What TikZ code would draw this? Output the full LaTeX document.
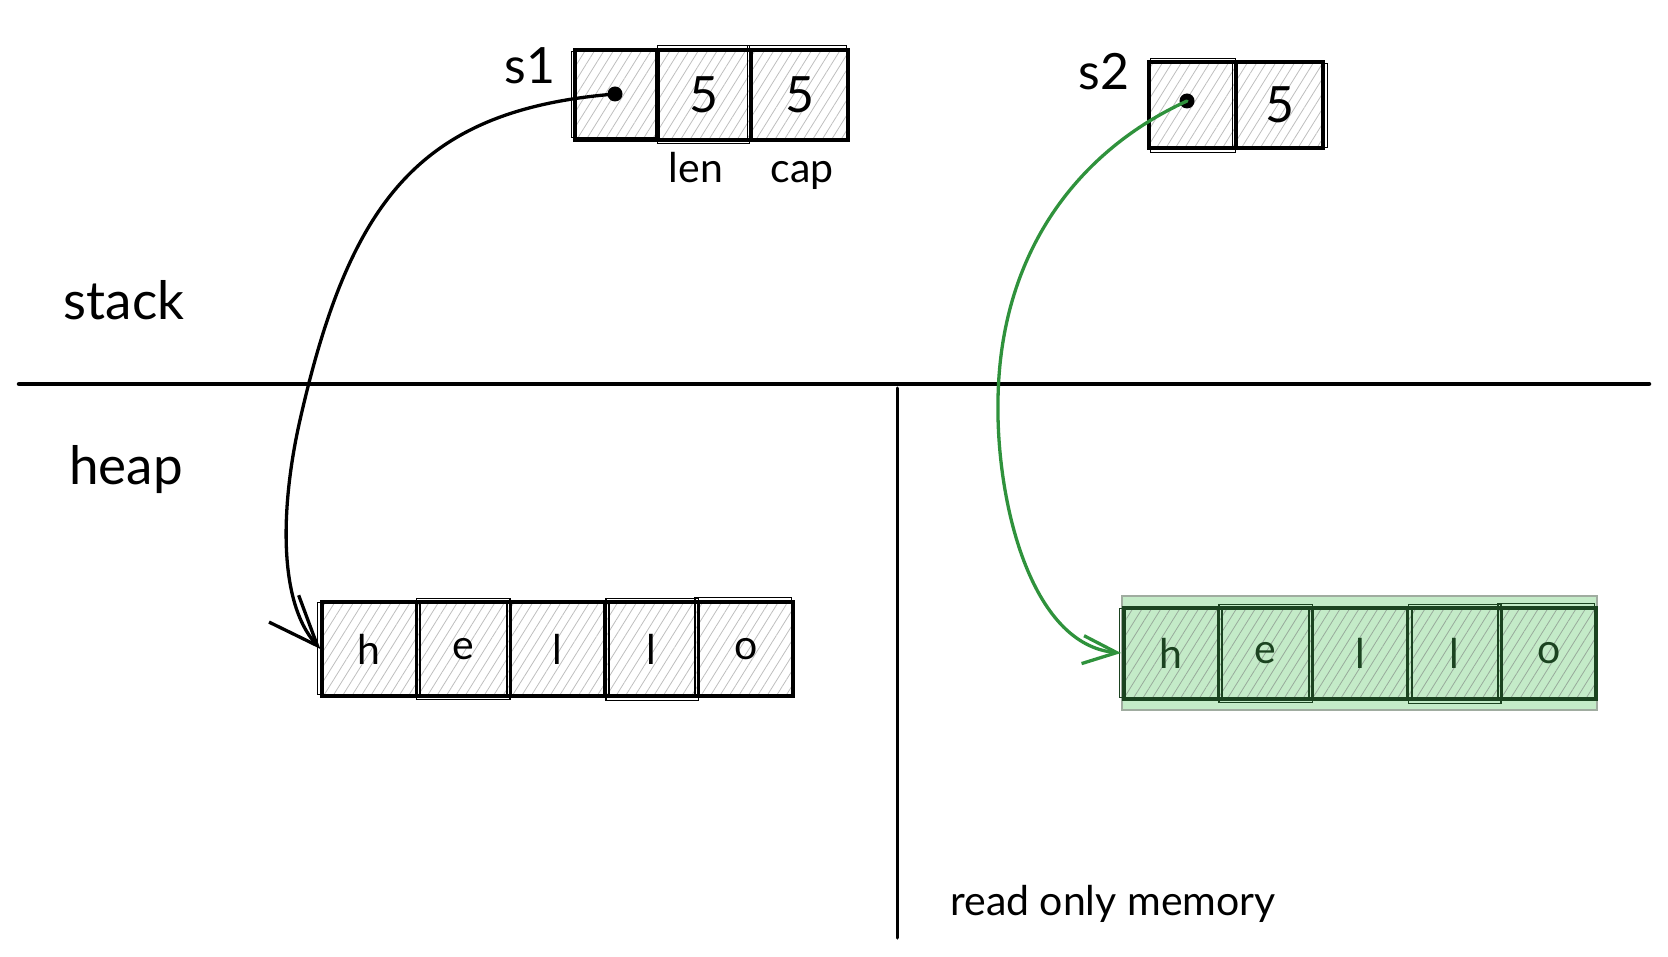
\documentclass[tikz,border=0pt]{standalone}
\usepackage{fontspec}
\setmainfont{Lato}
\usetikzlibrary{patterns.meta,arrows.meta}
\definecolor{hatch}{RGB}{190,190,190}
\definecolor{gfill}{RGB}{196,235,200}
\definecolor{gborder}{RGB}{160,172,160}
\definecolor{gdark}{RGB}{27,67,32}
\definecolor{garrow}{RGB}{47,146,60}
\tikzset{
  cellbox/.style={draw=black, line width=3.2pt, inner sep=0pt,
    pattern={Lines[angle=58,distance=8pt,line width=0.8pt]}, pattern color=hatch},
  gcellbox/.style={draw=gdark, line width=3.2pt, inner sep=0pt,
    preaction={fill=gfill},
    pattern={Lines[angle=58,distance=8pt,line width=0.8pt]}, pattern color=gdark!45},
  dotnode/.style={circle, fill=black, inner sep=0pt, minimum size=15pt},
  bigtxt/.style={font=\fontsize{50}{56}\selectfont},
  lbltxt/.style={font=\fontsize{53}{60}\selectfont},
  smalltxt/.style={font=\fontsize{41}{46}\selectfont},
  ptr/.style={line width=3.3pt, line cap=round},
  sketch/.style={line width=1.5pt},
}
\begin{document}
\begin{tikzpicture}[x=1pt,y=-1pt]
\useasboundingbox (0,0) rectangle (1668,957);
% dividers
\coordinate (hl) at (19,384);
\coordinate (hr) at (1649,384);
\coordinate (vt) at (897,388);
\coordinate (vb) at (897,938);
\draw[line width=4.5pt, line cap=round] (hl) -- (hr);
\draw[line width=3pt, line cap=round] (vt) -- (vb);
% region labels
\node[lbltxt] (stack) at (124,300) {stack};
\node[lbltxt] (heap) at (126,470) {heap};
\node[font=\fontsize{41}{46}\selectfont] (rom) at (1113,904) {read only memory};
% s1
\node[cellbox, minimum width=82pt, minimum height=90pt] (s1a) at (616,95) {};
\node[cellbox, minimum width=94pt, minimum height=90pt] (s1b) at (704,95) {};
\node[cellbox, minimum width=97pt, minimum height=90pt] (s1c) at (799.5,95) {};
\node[bigtxt] at (s1b) {5};
\node[bigtxt] at (s1c) {5};
\node[bigtxt] (s1lbl) at (530,66) {s1};
\node[smalltxt, anchor=base] (len) at (696,183) {len};
\node[smalltxt, anchor=base] (cap) at (802,183) {cap};
\node[dotnode] (d1) at (615,94) {};
% s2
\node[cellbox, minimum width=87pt, minimum height=86pt] (s2a) at (1192.5,105) {};
\node[cellbox, minimum width=87pt, minimum height=86pt] (s2b) at (1279.5,105) {};
\node[bigtxt] at (s2b) {5};
\node[bigtxt] (s2lbl) at (1104,72) {s2};
\node[dotnode] (d2) at (1187,101) {};
% heap hello
\foreach \i/\c/\x in {1/h/369.1,2/e/463.3,3/l/557.5,4/l/651.7,5/o/745.9}{
  \node[cellbox, minimum width=94.2pt, minimum height=94pt] (lh\i) at (\x,649) {};
  \node[smalltxt] at (lh\i) {\c};
}
% read-only hello
\node[draw=gborder, line width=2pt, fill=gfill, minimum width=475pt, minimum height=114pt, inner sep=0pt] (gbg) at (1359.5,653) {};
\foreach \i/\c/\x in {1/h/1171.2,2/e/1265.6,3/l/1360,4/l/1454.4,5/o/1548.8}{
  \node[gcellbox, minimum width=94.4pt, minimum height=91pt] (rh\i) at (\x,653.5) {};
  \node[smalltxt, text=gdark] at (rh\i) {\c};
}
% sketchy second strokes
\foreach \n/\a/\b in {s1a/-3/2,s1b/2/-3,s1c/-2/-3,s2a/3/-2,s2b/-2/3,lh1/-3/2,lh2/2/-2,lh3/-2/3,lh4/3/-2,lh5/-2/-3}{
  \draw[sketch] ([shift={(\a,\b)}]\n.north west) rectangle ([shift={(\b,\a)}]\n.south east);
}
\foreach \n/\a/\b in {rh1/-3/2,rh2/2/-2,rh3/-2/3,rh4/3/-2,rh5/-2/-3}{
  \draw[sketch, draw=gdark] ([shift={(\a,\b)}]\n.north west) rectangle ([shift={(\b,\a)}]\n.south east);
}
% pointers
\draw[ptr, -{Straight Barb[length=50pt,width=40pt,line width=3.3pt]}]
  (d1.center) .. controls (420,110) and (350,200) .. (300,420)
  .. controls (282,499) and (276,600) .. (lh1.west);
\draw[ptr, draw=garrow, -{Straight Barb[length=34pt,width=28pt,line width=3.3pt]}]
  (d2.center) .. controls (1080,150) and (1000,250) .. (998,400)
  .. controls (996,500) and (1030,645) .. (gbg.west);
\end{tikzpicture}
\end{document}
